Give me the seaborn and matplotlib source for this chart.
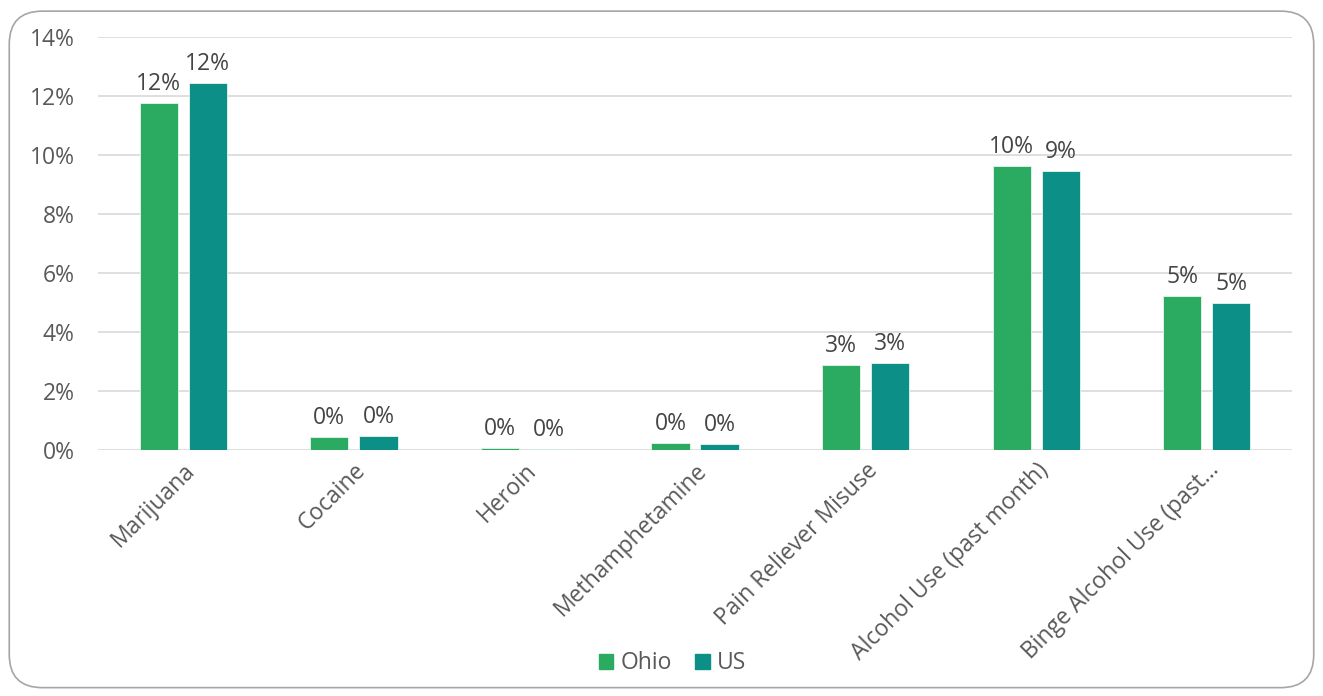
from __future__ import annotations

import matplotlib.pyplot as plt
import pandas as pd
import seaborn as sns
from matplotlib.patches import FancyBboxPatch

CATEGORIES = [
    "Marijuana",
    "Cocaine",
    "Heroin",
    "Methamphetamine",
    "Pain Reliever Misuse",
    "Alcohol Use (past month)",
    "Binge Alcohol Use (past\u2026",
]
OHIO = [11.76, 0.44, 0.07, 0.24, 2.88, 9.63, 5.22]
US = [12.45, 0.47, 0.05, 0.20, 2.95, 9.46, 4.98]
SERIES = ["Ohio", "US"]
Y_TICKS = [0, 2, 4, 6, 8, 10, 12, 14]

COLORS = {"Ohio": "#2BAA62", "US": "#0C8F87"}
TEXT = "#595959"
LABEL = "#454545"
GRID = "#D9D9D9"
FS = 16.5


def set_style() -> None:
    sns.set_theme(style="white")
    plt.rcParams.update({
        "font.family": ["Open Sans", "DejaVu Sans"],
        "font.size": FS,
        "xtick.labelsize": FS,
        "ytick.labelsize": FS,
        "legend.fontsize": FS,
        "text.color": TEXT,
        "xtick.color": TEXT,
        "ytick.color": TEXT,
    })


def build_figure() -> plt.Figure:
    df = pd.DataFrame({
        "category": CATEGORIES * 2,
        "series": ["Ohio"] * len(CATEGORIES) + ["US"] * len(CATEGORIES),
        "value": OHIO + US,
    })

    fig = plt.figure(figsize=(13.23, 6.96), dpi=100)
    ax = fig.add_axes([0.0741, 0.3534, 0.9025, 0.5934])

    sns.barplot(data=df, x="category", y="value", hue="series",
                palette=COLORS, width=0.575, gap=0.22, ax=ax,
                saturation=1, legend=False, errorbar=None,
                linewidth=0.6, edgecolor="#E8F5EE")

    for cont, vals in zip(ax.containers, [OHIO, US]):
        ax.bar_label(cont, labels=[f"{round(v)}%" for v in vals],
                     padding=5, color=LABEL, fontsize=FS)

    ax.set_ylim(0, 14)
    ax.set_xlim(-0.5, len(CATEGORIES) - 0.5)
    ax.set_yticks(Y_TICKS)
    ax.set_yticklabels([f"{t}%" for t in Y_TICKS])
    ax.yaxis.grid(True, color=GRID, linewidth=1.2)
    ax.set_axisbelow(True)
    for s in ax.spines.values():
        s.set_visible(False)
    ax.tick_params(axis="y", length=0, pad=17)
    ax.tick_params(axis="x", length=0, pad=6)
    ax.set_xlabel("")
    ax.set_ylabel("")
    plt.setp(ax.get_xticklabels(), rotation=45, ha="right", va="top",
             rotation_mode="anchor")

    handles = [plt.Rectangle((0, 0), 1, 1, color=COLORS[s]) for s in SERIES]
    fig.legend(handles, SERIES, loc="center", bbox_to_anchor=(0.508, 0.047),
               ncol=2, frameon=False, handlelength=0.65, handleheight=0.65,
               handletextpad=0.3, columnspacing=1.0, fontsize=FS)

    frame = FancyBboxPatch((0.007, 0.012), 0.986, 0.972,
                           boxstyle="round,pad=0,rounding_size=0.025",
                           transform=fig.transFigure, fill=False,
                           edgecolor="#A6A6A6", linewidth=1.2,
                           mutation_aspect=1323 / 696)
    fig.patches.append(frame)
    return fig


def main() -> None:
    set_style()
    fig = build_figure()
    fig.savefig("out.png", dpi=100, facecolor="white")


if __name__ == "__main__":
    main()
